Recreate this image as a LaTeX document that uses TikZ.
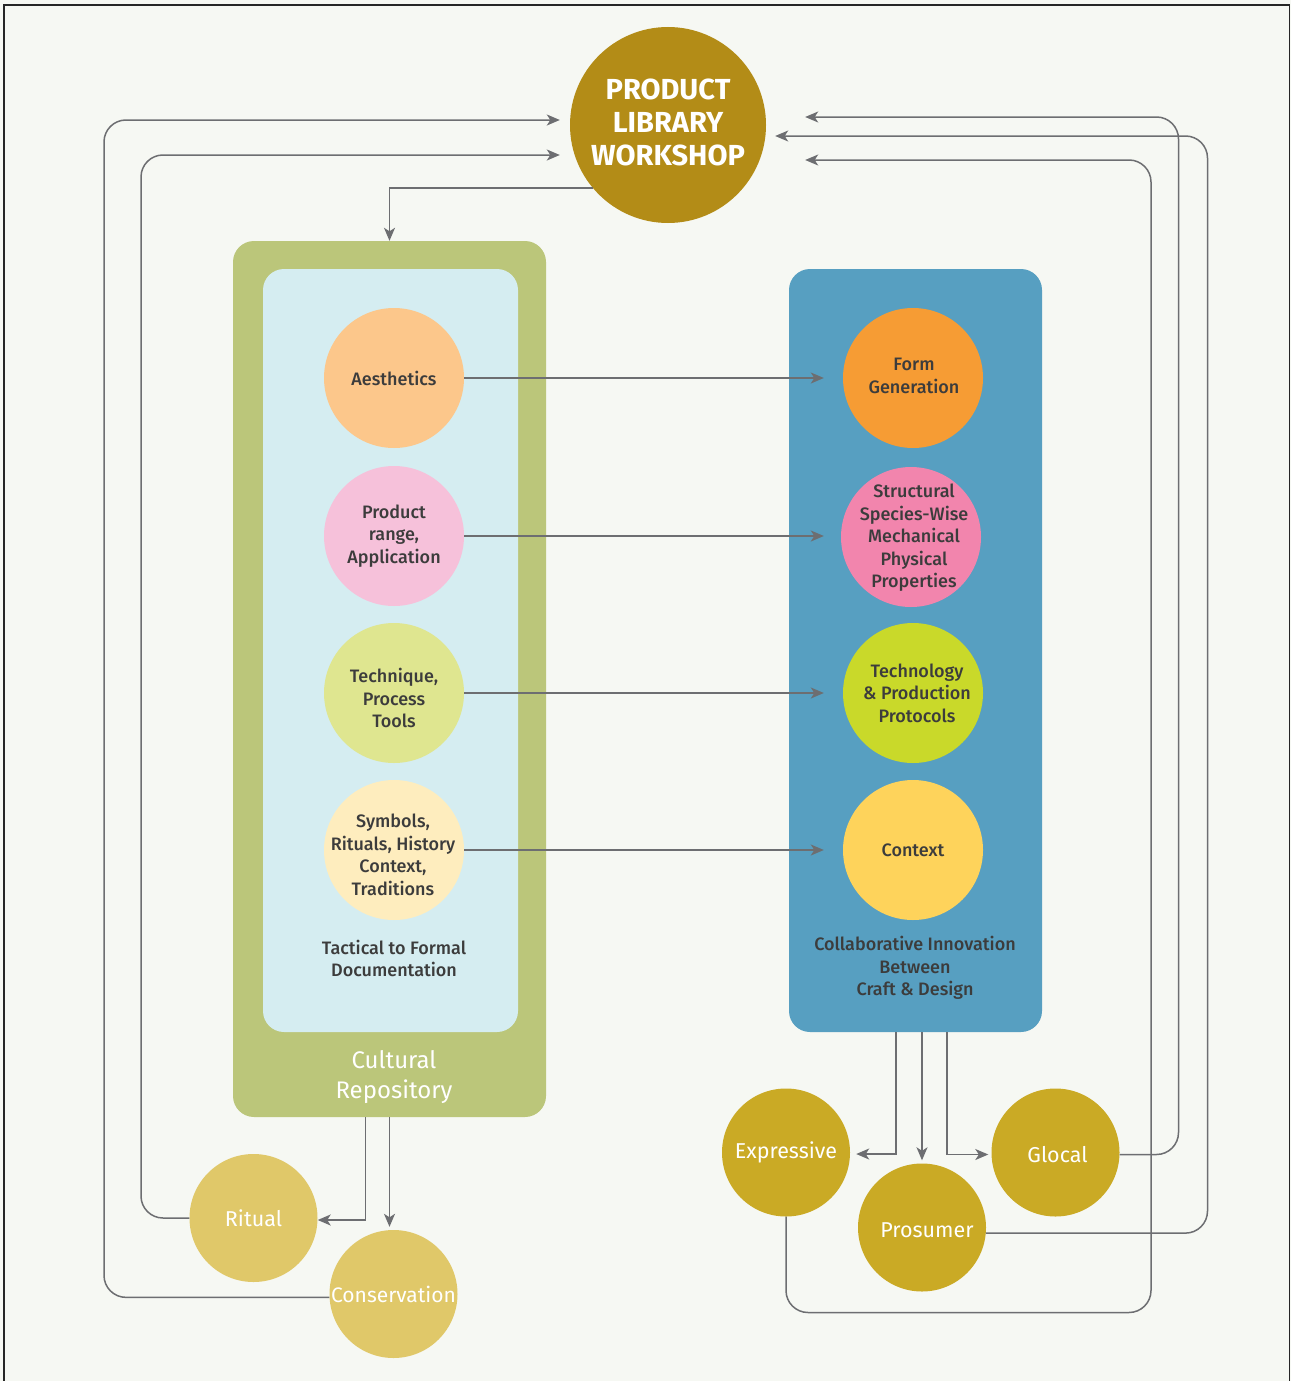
\documentclass[tikz,border=0pt]{standalone}
\usepackage{fontspec}
\setmainfont{Fira Sans}[BoldFont={Fira Sans Medium}]
\newfontfamily\titlefont{Fira Sans}
\usetikzlibrary{arrows.meta}
\definecolor{bg}{HTML}{F6F8F3}
\definecolor{titlec}{HTML}{B38C17}
\definecolor{outergreen}{HTML}{BBC67A}
\definecolor{innerblue}{HTML}{D5EDF1}
\definecolor{aesc}{HTML}{FCC78B}
\definecolor{prodc}{HTML}{F6C1DA}
\definecolor{techc}{HTML}{DFE690}
\definecolor{symc}{HTML}{FEEDBE}
\definecolor{bluebox}{HTML}{579FC1}
\definecolor{formc}{HTML}{F69C34}
\definecolor{structc}{HTML}{F285AD}
\definecolor{technoc}{HTML}{C9D92A}
\definecolor{contextc}{HTML}{FED35B}
\definecolor{ritc}{HTML}{E0C869}
\definecolor{outc}{HTML}{CAAA25}
\definecolor{linec}{HTML}{6D6E71}
\definecolor{darktext}{HTML}{3C3C3C}
\begin{document}
\begin{tikzpicture}[x=1pt,y=-1pt,
  circ/.style={circle, inner sep=0pt, minimum size=140pt},
  ctext/.style={align=center, inner sep=0pt, text=darktext, font=\fontsize{18}{22.5}\selectfont\bfseries},
  outcirc/.style={circle, inner sep=0pt, minimum size=128pt},
  otext/.style={align=center, inner sep=0pt, text=white, font=\fontsize{21.5}{26}\selectfont},
  panel/.style={rectangle, rounded corners=21pt, inner sep=0pt},
  conn/.style={draw=linec, line width=1.5pt, rounded corners=22pt},
  arr/.style={conn, -{Stealth[length=13pt, width=11pt, inset=3.5pt]}},
  lbl/.style={align=center, text=darktext, font=\fontsize{18}{22.5}\selectfont\bfseries}
]
\useasboundingbox (0,0) rectangle (1291,1381);
\fill[bg] (0,0) rectangle (1291,1381);
\draw[color=black!85, line width=1.6pt] (4,1381) -- (4,5) -- (1289.5,5) -- (1289.5,1381);

% top circle
\node[circle, inner sep=0pt, minimum size=196pt, fill=titlec,
  label={[align=center, inner sep=0pt, text=white, yshift=3pt,
    font=\titlefont\fontsize{29}{33}\selectfont\bfseries]center:PRODUCT\\LIBRARY\\WORKSHOP}] (plw) at (668,125) {};

% panels
\node[panel, fill=outergreen, minimum width=313pt, minimum height=876pt] (crep) at (389.5,679) {};
\node[panel, fill=innerblue, minimum width=255pt, minimum height=763pt] (inner) at (390.5,650.5) {};
\node[panel, fill=bluebox, minimum width=253pt, minimum height=763pt] (blue) at (915.5,650.5) {};

% left circles
\node[circ, fill=aesc, label={[ctext]center:Aesthetics}] (aes) at (394,378) {};
\node[circ, fill=prodc, label={[ctext]center:Product\\range,\\Application}] (prod) at (394,536) {};
\node[circ, fill=techc, label={[ctext, yshift=-5pt]center:Technique,\\Process\\Tools}] (tech) at (394,693) {};
\node[circ, fill=symc, label={[ctext, yshift=-5pt, xshift=-1pt]center:Symbols,\\Rituals, History\\Context,\\Traditions}] (sym) at (394,850) {};
\node[lbl] (tact) at (394,958.5) {Tactical to Formal\\Documentation};
\node[align=center, text=white, font=\fontsize{24}{30}\selectfont] (crlabel) at (394,1077) {Cultural\\Repository};

% right circles
\node[circ, fill=formc, label={[ctext, yshift=2pt, xshift=1pt]center:Form\\Generation}] (form) at (913,378) {};
\node[circ, fill=structc, label={[ctext, yshift=-1pt, xshift=3pt]center:Structural\\Species-Wise\\Mechanical\\Physical\\Properties}] (struct) at (911,537) {};
\node[circ, fill=technoc, label={[ctext, xshift=4pt]center:Technology\\\& Production\\Protocols}] (techno) at (913,693) {};
\node[circ, fill=contextc, label={[ctext]center:Context}] (context) at (913,850) {};
\node[lbl] (collab) at (915,968) {Collaborative Innovation\\Between\\Craft \& Design};

% bottom circles
\node[outcirc, fill=ritc, label={[otext]center:Ritual}] (ritual) at (253.5,1218) {};
\node[outcirc, fill=ritc, label={[otext, font=\fontsize{21}{26}\selectfont]center:Conservation}] (cons) at (393.5,1294) {};
\node[outcirc, fill=outc, label={[otext]center:Expressive}] (expr) at (786,1152.5) {};
\node[outcirc, fill=outc, label={[otext, xshift=5pt, yshift=-3pt]center:Prosumer}] (pros) at (922,1227.5) {};
\node[outcirc, fill=outc, label={[otext, xshift=2pt, yshift=-2pt]center:Glocal}] (glocal) at (1055.5,1152.5) {};

% horizontal arrows
\draw[arr] (aes.east) -- ([xshift=-19pt]form.west);
\draw[arr] (prod.east) -- ([xshift=-17pt, yshift=1pt]struct.west);
\draw[arr] (tech.east) -- ([xshift=-19pt]techno.west);
\draw[arr] (sym.east) -- ([xshift=-19pt]context.west);

% top to cultural repository
\draw[arr, rounded corners=0pt] (plw.220) -| (crep.north);

% cultural repository outputs
\draw[arr, rounded corners=0pt] ([xshift=-24pt]crep.south) |- ([yshift=-2pt]ritual.east);
\draw[arr, shorten >=3pt] (crep.south) -- (crep.south |- cons.north);

% blue panel outputs
\draw[arr, rounded corners=0pt] ([xshift=-19.5pt]blue.south) |- ([xshift=6pt, yshift=-1.5pt]expr.east);
\draw[arr, shorten >=3pt] (pros.north |- blue.south) -- (pros.north);
\draw[arr, rounded corners=0pt] ([xshift=31.5pt]blue.south) |- ([xshift=-3pt, yshift=-2pt]glocal.west);

% feedback loops left
\draw[arr] (ritual.west) -| (141,155) -- ([shift={(-10,30)}]plw.west);
\draw[arr] (cons.183) -| (104,120) -- ([shift={(-10,-5)}]plw.west);

% feedback loops right
\draw[arr] ([yshift=-2pt]glocal.east) -| (1178.5,117) -- ([shift={(39,-8)}]plw.east);
\draw[arr] (pros.-5) -| (1207.5,136) -- ([shift={(9,11)}]plw.east);
\draw[arr] (expr.south) |- (1151,1312.5) -- (1151,160) -- ([shift={(39,35)}]plw.east);
\end{tikzpicture}
\end{document}
